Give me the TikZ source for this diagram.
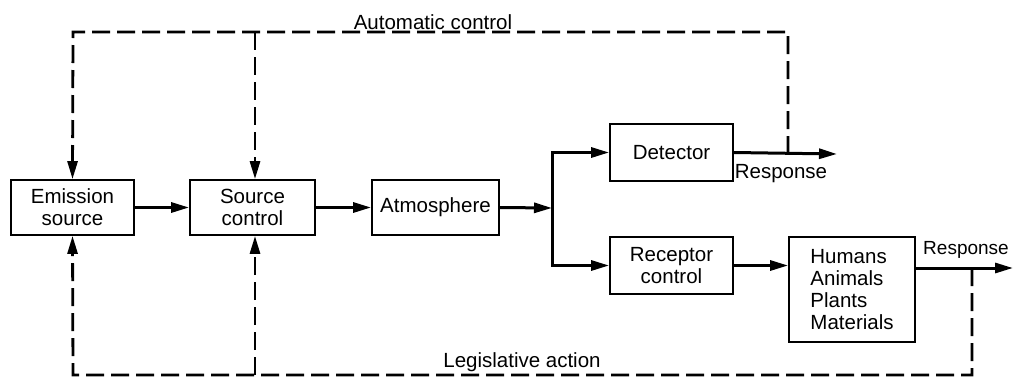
\documentclass[tikz,border=0pt]{standalone}
\usepackage{fontspec}
\setmainfont{Liberation Sans}
\usetikzlibrary{arrows.meta}
\begin{document}
\begin{tikzpicture}[x=1pt,y=-1pt,
  every node/.style={font=\fontsize{20.5}{22}\selectfont},
  blk/.style={draw, line width=1.8pt, inner sep=0pt, align=center},
  tip/.style={-{Triangle[length=18pt,width=10pt]}},
  flow/.style={line width=3pt, tip},
  ctrl/.style={line width=2.8pt, dash pattern=on 18pt off 7pt},
  ctrlarr/.style={ctrl, tip},
  lbl/.style={inner sep=0pt}]
\useasboundingbox (0,0) rectangle (1014,378);

% blocks
\node[blk, minimum width=123pt, minimum height=55pt] (emis) at (72.5,207.5) {Emission\\source};
\node[blk, minimum width=125pt, minimum height=55pt] (srcc) at (252.5,207.5) {Source\\control};
\node[blk, minimum width=127pt, minimum height=55pt] (atm) at (435.5,207.5) {Atmosphere};
\node[blk, minimum width=123pt, minimum height=57pt] (det) at (671.5,152.5) {Detector};
\node[blk, minimum width=123pt, minimum height=57pt] (rec) at (671.5,265.5) {Receptor\\control};
\node[blk, minimum width=126pt, minimum height=105pt, align=left] (hum) at (852,289.5) {Humans\\Animals\\Plants\\Materials};

% junctions and free ends
\coordinate (br) at (552,208);
\coordinate (out1) at (837,154);
\coordinate (out2) at (1013,268);
\coordinate (tapA) at (788,154);
\coordinate (tapL) at (972,268);
\coordinate (topL) at (73,32);
\coordinate (topM) at (255,32);
\coordinate (botL) at (73,375);
\coordinate (botM) at (255,375);

% forward path
\draw[flow] (emis.east) -- (srcc.west);
\draw[flow] (srcc.east) -- (atm.west);
\draw[flow] (atm.east) -- (br);
\draw[flow] (br) |- (det.west);
\draw[flow] (br) |- (rec.west);
\draw[flow] (rec.east) -- (rec.east -| hum.west);
\draw[flow] (det.east) -- (out1);
\draw[flow] (out2 -| hum.east) -- (out2);

% automatic control loop
\draw[ctrlarr] (tapA) -- (tapA |- topL) -- (topL) -- (emis.north);
\draw[ctrlarr] (topM) -- (topM |- srcc.north);

% legislative action loop
\draw[ctrlarr] (tapL) -- (tapL |- botL) -- (botL) -- (emis.south);
\draw[ctrlarr] (botM) -- (botM |- srcc.south);

% labels
\node[lbl] (lauto) at (433,22) {Automatic control};
\node[lbl] (lresp1) at (781,174) {Response};
\node[lbl, font=\fontsize{19}{22}\selectfont] (lresp2) at (966,250) {Response};
\node[lbl] (lleg) at (522,362) {Legislative action};
\end{tikzpicture}
\end{document}
